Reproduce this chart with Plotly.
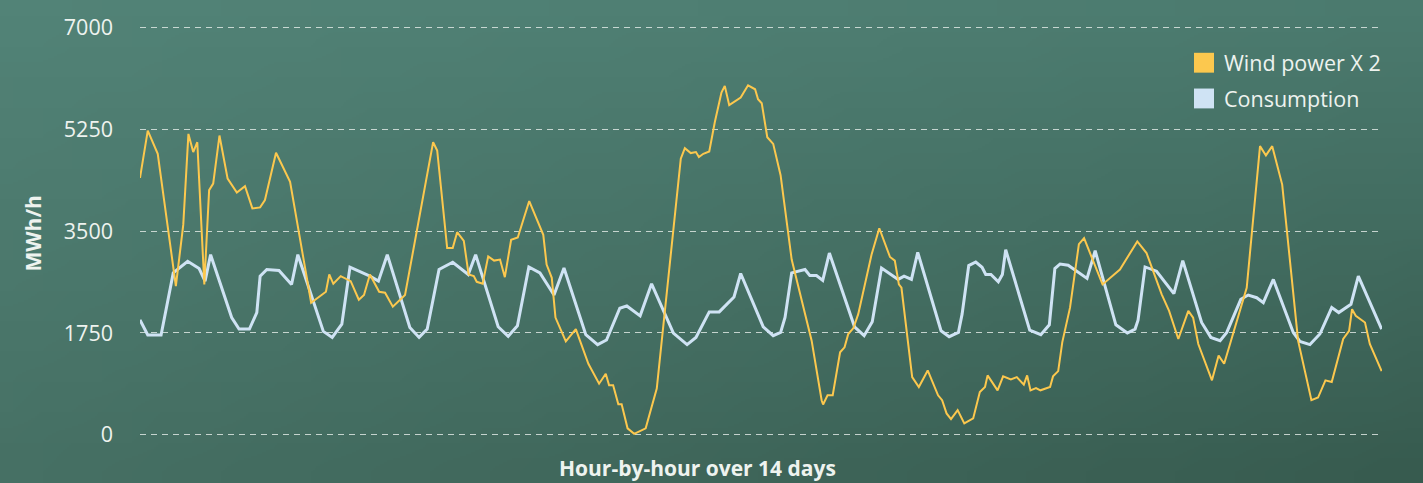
import base64, struct, zlib
import plotly.graph_objects as go

# ---------------- data ----------------
wind_hours = [0, 2.1, 4.8, 9.7, 11.7, 13.1, 14.4, 15.5, 17.4, 18.7, 19.8, 21.5, 23.7, 26.2, 28.4,
              30.4, 32.5, 33.8, 36.8, 40.6, 46.3, 50.3, 51.2, 52.3, 54.3, 57.0, 59.2, 60.6, 62.2,
              64.7, 66.3, 68.4, 71.7, 79.3, 80.4, 83.1, 84.6, 85.8, 87.6, 88.9, 90.3, 91.1, 92.7,
              94.2, 95.8, 97.4, 98.7, 100.4, 102.2, 105.3, 109.1, 110.0, 111.4, 112.4, 115.2,
              117.9, 121.3, 122.3, 124.2, 126.0, 126.9, 128.0, 129.4, 130.3, 131.9, 133.7, 136.8,
              139.8, 146.3, 147.4, 149.0, 150.4, 151.2, 152.4, 154.0, 155.5, 157.3, 158.2, 159.4,
              162.5, 164.5, 166.4, 167.2, 168.2, 169.7, 171.3, 173.3, 176.3, 181.7, 184.4, 184.8,
              186.0, 187.4, 189.4, 190.6, 191.6, 193.0, 194.3, 197.9, 200.0, 202.9, 204.2, 205.3,
              206.0, 208.9, 210.7, 213.1, 215.9, 217.0, 218.2, 219.4, 221.2, 223.0, 225.4, 227.2,
              228.6, 229.3, 232.0, 233.5, 235.6, 237.2, 239.1, 240.0, 240.9, 242.4, 243.6, 246.2,
              247.0, 248.4, 249.5, 251.6, 254.0, 255.4, 260.4, 265.1, 269.8, 272.3, 276.4, 278.4,
              280.9, 283.6, 284.9, 286.3, 290.0, 291.8, 293.3, 299.4, 303.0, 304.6, 306.3, 309.0,
              313.3, 316.9, 318.7, 320.7, 322.4, 325.5, 327.1, 327.9, 328.9, 331.4, 332.7, 335.9]
wind_x2 = [4411, 5223, 4825, 2555, 3605, 5166, 4854, 5024, 2583, 4201, 4314, 5138, 4399, 4161, 4269,
           3888, 3905, 4031, 4842, 4343, 2270, 2458, 2754, 2594, 2725, 2640, 2321, 2401, 2754,
           2458, 2441, 2202, 2401, 5024, 4882, 3207, 3207, 3479, 3332, 2754, 2725, 2628, 2594,
           3065, 2992, 3009, 2708, 3350, 3389, 4014, 3435, 2924, 2696, 2015, 1606,
           1817, 1221, 1107, 880, 1051, 852, 852, 528, 528, 114, 20, 114,
           795, 4740, 4922, 4837, 4854, 4769, 4825, 4865, 5365, 5875, 5990, 5660,
           5790, 6000, 5932, 5761, 5693, 5109, 4995, 4457, 3009, 1618, 596, 523,
           681, 681, 1419, 1504, 1732, 1834, 2073, 3094, 3547, 3054, 2992, 2583,
           2526, 993, 823, 1107, 681, 596, 370, 272, 426, 199, 284, 738,
           823, 1022, 766, 1005, 954, 993, 863, 1022, 766, 806, 766, 823,
           1005, 1095, 1589, 2185, 3275, 3377, 2583, 2839, 3321, 3122, 2413, 2129,
           1647, 2129, 2015, 1561, 937, 1362, 1221, 2526, 4956, 4797, 4956, 4297,
           1618, 596, 642, 937, 908, 1647, 1788, 2158, 2044, 1930, 1561, 1095]

cons_hours = [0, 2.1, 5.7, 9.0, 12.9, 16.0, 17.6, 19.1, 24.8, 26.8, 29.6, 31.6, 32.5, 34.3, 37.6,
              41.0, 42.7, 49.6, 52.0, 54.6, 56.8, 62.2, 64.5, 66.9, 73.0, 75.5, 77.7, 80.9, 84.6,
              88.8, 90.8, 96.9, 99.6, 102.1, 105.2, 108.2, 112.0, 114.7, 120.6, 123.8, 126.2,
              129.8, 131.7, 135.3, 138.4, 144.3, 148.0, 150.4, 154.0, 156.7, 160.7, 162.5, 168.6,
              171.3, 173.3, 174.5, 176.3, 179.9, 181.2, 183.0, 184.7, 186.5, 193.3, 195.9, 198.1,
              200.6, 205.1, 206.7, 208.7, 210.4, 216.7, 218.9, 221.4, 222.4, 224.2, 226.1, 227.8,
              228.8, 230.2, 232.2, 233.3, 234.2, 240.7, 243.7, 246.0, 247.5, 248.9, 251.1, 256.2,
              258.4, 264.0, 267.1, 269.2, 270.0, 271.9, 275.0, 279.7, 282.1, 287.2, 289.7, 292.2,
              294.0, 297.8, 299.8, 302.1, 303.9, 306.6, 312.0, 313.8, 316.5, 319.2, 322.4, 324.3,
              327.6, 329.6, 335.9]
consumption = [1975, 1715, 1715, 2781, 2980, 2856, 2640, 3094, 2015, 1817, 1817, 2100, 2725, 2839, 2822,
               2583, 3094, 1777, 1674, 1902, 2878, 2725, 2640, 3094, 1844, 1674, 1817, 2839, 2963,
               2754, 3094, 1856, 1691, 1873, 2883, 2781, 2401, 2866, 1720, 1550, 1630,
               2175, 2214, 2044, 2594, 1749, 1550, 1674, 2112, 2112, 2367, 2771, 1856,
               1703, 1759, 2015, 2781, 2839, 2737, 2737, 2652, 3122, 1856, 1703, 1941,
               2866, 2669, 2725, 2669, 3134, 1788, 1686, 1759, 2073, 2907, 2968, 2878,
               2754, 2754, 2628, 2754, 3179, 1800, 1720, 1890, 2856, 2934, 2912, 2686,
               3162, 1890, 1749, 1817, 1970, 2883, 2810, 2424, 2992, 1930, 1674, 1618,
               1759, 2328, 2401, 2355, 2270, 2669, 1759, 1606, 1550, 1732, 2185, 2100,
               2243, 2725, 1817]

y_ticks = [0, 1750, 3500, 5250, 7000]
series_names = ["Wind power X 2", "Consumption"]
x_title = "Hour-by-hour over 14 days"
y_title = "MWh/h"

WIND_COLOR = "#fcc84e"
CONS_COLOR = "#cfe3f4"
TEXT_COLOR = "#eef3ef"

# ---------------- background gradient image ----------------
def gradient_png(w, h, tl, tr, bl, br):
    rows = b""
    for j in range(h):
        fy = j / (h - 1)
        row = b"\x00"
        for i in range(w):
            fx = i / (w - 1)
            px = []
            for c in range(3):
                top = tl[c] * (1 - fx) + tr[c] * fx
                bot = bl[c] * (1 - fx) + br[c] * fx
                px.append(int(round(top * (1 - fy) + bot * fy)))
            row += bytes(px)
        rows += row

    def chunk(tag, data):
        c = struct.pack(">I", len(data)) + tag + data
        return c + struct.pack(">I", zlib.crc32(tag + data) & 0xffffffff)

    png = b"\x89PNG\r\n\x1a\n"
    png += chunk(b"IHDR", struct.pack(">IIBBBBB", w, h, 8, 2, 0, 0, 0))
    png += chunk(b"IDAT", zlib.compress(rows, 9))
    png += chunk(b"IEND", b"")
    return "data:image/png;base64," + base64.b64encode(png).decode()

bg = gradient_png(48, 16, (82, 131, 119), (75, 122, 110), (70, 112, 100), (55, 91, 79))

W, H = 1423, 483
ML, MR, MT, MB = 140, 41, 22, 46
PW, PH = W - ML - MR, H - MT - MB
PAD = 4  # extend the background image a few px beyond the page edges


def py(pixel_y):
    """paper y for a pixel row measured from the top of the page"""
    return 1 - (pixel_y - MT) / PH


def px(pixel_x):
    return (pixel_x - ML) / PW


fig = go.Figure()
fig.add_trace(go.Scatter(x=cons_hours, y=consumption, mode="lines", name=series_names[1],
                         line=dict(color=CONS_COLOR, width=3), showlegend=False))
fig.add_trace(go.Scatter(x=wind_hours, y=wind_x2, mode="lines", name=series_names[0],
                         line=dict(color=WIND_COLOR, width=2), showlegend=False))

fig.update_layout(
    width=W, height=H,
    margin=dict(l=ML, r=MR, t=MT, b=MB),
    paper_bgcolor="#4a7668", plot_bgcolor="rgba(0,0,0,0)",
    font=dict(family="Open Sans", color=TEXT_COLOR),
    images=[dict(source=bg, xref="paper", yref="paper",
                 x=px(-PAD), y=py(-PAD), sizex=(W + 2 * PAD) / PW, sizey=(H + 2 * PAD) / PH,
                 sizing="stretch", layer="below", xanchor="left", yanchor="top")],
    xaxis=dict(range=[0, 336], showgrid=False, zeroline=False, showticklabels=False,
               showline=False, ticks=""),
    yaxis=dict(range=[-35, 7035], tickvals=y_ticks, ticktext=[str(v) for v in y_ticks],
               showgrid=True, gridcolor="rgba(230,238,234,0.8)", gridwidth=1,
               griddash="6px,5px", zeroline=False, showline=False, ticks="",
               ticklabelstandoff=26, tickfont=dict(size=21.5, color=TEXT_COLOR)),
    showlegend=False,
)

# axis titles
fig.add_annotation(text=f"<b>{y_title}</b>", xref="paper", yref="paper",
                   x=px(33), y=py(232), textangle=-90, showarrow=False,
                   xanchor="center", yanchor="middle",
                   font=dict(size=21, color=TEXT_COLOR, family="Open Sans"))
fig.add_annotation(text=f"<b>{x_title}</b>", xref="paper", yref="paper",
                   x=px(697), y=py(468), showarrow=False,
                   xanchor="center", yanchor="middle",
                   font=dict(size=21, color=TEXT_COLOR, family="Open Sans"))

# legend (colour squares + labels)
for i, (name, col) in enumerate(zip(series_names, [WIND_COLOR, CONS_COLOR])):
    cy = 60 + i * 36
    fig.add_shape(type="rect", xref="paper", yref="paper",
                  x0=px(1194), x1=px(1214), y0=py(cy + 10), y1=py(cy - 10),
                  fillcolor=col, line=dict(width=0))
    fig.add_annotation(text=name, xref="paper", yref="paper",
                       x=px(1222), y=py(cy), showarrow=False,
                       xanchor="left", yanchor="middle",
                       font=dict(size=21.5, color=TEXT_COLOR, family="Open Sans"))

fig.write_html("out.html", config={"displayModeBar": False},
               post_script="document.body.style.margin='0';")
